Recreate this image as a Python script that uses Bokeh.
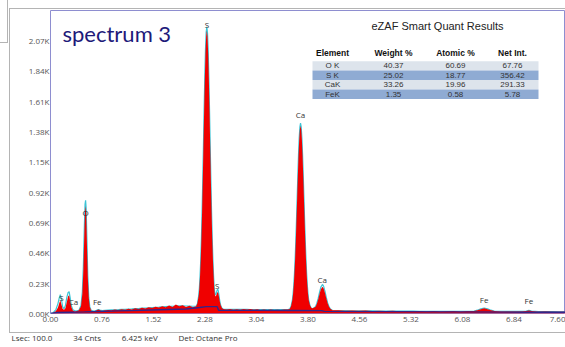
from bokeh.plotting import figure
from bokeh.models import FixedTicker, NumeralTickFormatter, Title
from bokeh.core.properties import value
from bokeh.embed import file_html
from bokeh.resources import INLINE

# ---- measured spectrum: energy (keV), counts, and fitted counts ----
energy = [
    # low-energy lines (S L, C/Ca L, O K, Fe L)
    0.00, 0.04, 0.08, 0.11, 0.13, 0.145, 0.16, 0.18, 0.20, 0.22, 0.24, 0.26, 0.275, 0.29,
    0.31, 0.33, 0.36, 0.39, 0.42, 0.45, 0.47, 0.485, 0.50, 0.51, 0.518, 0.527, 0.537, 0.55,
    0.565, 0.58, 0.60, 0.63, 0.66, 0.69, 0.71, 0.73, 0.76, 0.80,
    # continuum
    0.85, 0.90, 0.95, 1.00, 1.05, 1.10, 1.15, 1.20, 1.25, 1.30, 1.35, 1.40, 1.45, 1.50,
    1.55, 1.60, 1.65, 1.70, 1.75, 1.80, 1.85, 1.90, 1.95, 2.00, 2.05, 2.10, 2.15,
    # S K-alpha / K-beta
    2.167, 2.187, 2.197, 2.207, 2.217, 2.227, 2.237, 2.247, 2.257, 2.267, 2.277, 2.287,
    2.297, 2.307, 2.317, 2.327, 2.337, 2.347, 2.357, 2.367, 2.377, 2.387, 2.397, 2.407,
    2.417, 2.427, 2.437, 2.447, 2.457, 2.467, 2.477, 2.487, 2.497, 2.51, 2.53, 2.55,
    # continuum
    2.60, 2.65, 2.70, 2.75, 2.80, 2.85, 2.90, 2.95, 3.00, 3.05, 3.10, 3.15, 3.20, 3.25,
    3.30, 3.35, 3.40, 3.45, 3.50,
    # Ca K-alpha / K-beta
    3.53, 3.55, 3.57, 3.58, 3.59, 3.60, 3.61, 3.62, 3.63, 3.64, 3.65, 3.66, 3.67, 3.68,
    3.69, 3.70, 3.71, 3.72, 3.73, 3.74, 3.75, 3.76, 3.77, 3.78, 3.79, 3.80, 3.81, 3.83,
    3.85, 3.87, 3.89, 3.91, 3.93, 3.95, 3.97, 3.99, 4.013, 4.03, 4.05, 4.07, 4.09, 4.11,
    4.13, 4.16,
    # continuum with Fe K-alpha / K-beta
    4.25, 4.35, 4.45, 4.55, 4.65, 4.75, 4.85, 4.95, 5.05, 5.15, 5.25, 5.35, 5.45, 5.55,
    5.65, 5.75, 5.85, 5.95, 6.05, 6.15, 6.25, 6.30, 6.35, 6.40, 6.45, 6.50, 6.55, 6.65,
    6.75, 6.85, 6.95, 7.02, 7.06, 7.10, 7.20, 7.30, 7.40, 7.50, 7.60,
]
counts = [
    0, 4, 18, 45, 80, 100, 70, 35, 28, 40, 85, 130, 138, 95,
    45, 22, 15, 18, 25, 55, 150, 330, 620, 780, 815, 750, 540, 280,
    120, 50, 22, 15, 18, 26, 30, 24, 18, 22,
    27, 24, 30, 26, 33, 29, 36, 31, 40, 35, 44, 38, 47, 41,
    52, 45, 55, 48, 60, 50, 68, 55, 62, 50, 58, 48, 55,
    75, 137, 196, 284, 407, 568, 770, 1007, 1265, 1530, 1773, 1971,
    2099, 2145, 2099, 1971, 1773, 1530, 1265, 1007, 770, 568, 407, 284,
    190, 140, 128, 138, 155, 162, 152, 125, 95, 65, 42, 35,
    30, 34, 28, 33, 29, 35, 30, 34, 28, 32, 27, 31, 27, 30,
    26, 29, 27, 30, 31,
    35, 55, 105, 151, 216, 303, 415, 550, 706, 873, 1040, 1192, 1315, 1394,
    1422, 1394, 1315, 1192, 1040, 873, 706, 550, 415, 303, 216, 151, 105, 60,
    42, 40, 45, 50, 72, 106, 148, 184, 202, 192, 158, 116, 78, 52,
    36, 25,
    24, 21, 23, 20, 22, 19, 21, 18, 20, 17, 19, 17, 18, 16,
    18, 16, 17, 19, 16, 18, 19, 24, 33, 39, 33, 24, 19, 16,
    15, 16, 15, 19, 22, 18, 14, 15, 13, 14, 13,
]
fit = [
    0, 6, 30, 75, 120, 142, 110, 50, 35, 60, 120, 160, 165, 120,
    55, 28, 20, 20, 24, 60, 165, 360, 670, 830, 858, 790, 570, 290,
    120, 50, 24, 18, 20, 27, 30, 26, 22, 24,
    26, 27, 28, 29, 31, 32, 34, 35, 37, 38, 40, 41, 43, 45,
    47, 48, 50, 52, 54, 55, 57, 58, 58, 57, 56, 55, 56,
    72, 135, 195, 283, 406, 568, 772, 1012, 1275, 1545, 1795, 2000,
    2130, 2172, 2125, 1995, 1790, 1540, 1270, 1008, 770, 566, 404, 282,
    192, 148, 140, 155, 175, 185, 170, 135, 98, 64, 40, 34,
    31, 31, 31, 31, 31, 31, 31, 30, 30, 30, 30, 29, 29, 29,
    29, 29, 29, 29, 30,
    34, 54, 104, 150, 215, 302, 414, 550, 708, 878, 1048, 1204, 1330, 1412,
    1442, 1412, 1330, 1204, 1048, 878, 708, 550, 414, 302, 215, 150, 104, 58,
    40, 38, 44, 52, 76, 114, 160, 200, 220, 208, 170, 122, 80, 52,
    34, 24,
    22, 22, 21, 21, 20, 20, 19, 19, 19, 18, 18, 18, 17, 17,
    17, 17, 17, 17, 17, 17, 19, 25, 35, 42, 35, 25, 19, 17,
    16, 16, 16, 19, 24, 19, 15, 14, 14, 13, 13,
]

# ---- continuum background ----
bg_energy = [0.0, 0.1, 0.3, 0.5, 0.7, 1.0, 1.5, 2.0, 2.2, 2.3, 2.46, 2.48, 3.0, 3.6, 4.0,
             4.04, 5.0, 6.0, 7.0, 7.6]
bg_counts = [0, 8, 10, 12, 15, 20, 27, 34, 45, 52, 52, 24, 24, 23, 22, 16, 14, 12, 10, 9]

# ---- element line labels ----
line_names = ["S", "Ca", "O", "Fe", "S", "S", "Ca", "Ca", "Fe", "Fe"]
line_keV = [0.16, 0.34, 0.517, 0.69, 2.31, 2.46, 3.69, 4.01, 6.40, 7.06]
line_label_counts = [124, 94, 765, 94, 2190, 215, 1505, 260, 109, 97]

# ---- axes ----
x_ticks = [0.00, 0.76, 1.52, 2.28, 3.04, 3.80, 4.56, 5.32, 6.08, 6.84, 7.60]
y_ticks = [0, 230, 460, 690, 920, 1150, 1380, 1610, 1840, 2070]
y_tick_labels = ["0.00K", "0.23K", "0.46K", "0.69K", "0.92K", "1.15K", "1.38K", "1.61K",
                 "1.84K", "2.07K"]
X_END = 7.6
Y_END = 2296

# ---- quantification table ----
table_title = "eZAF Smart Quant Results"
table_header = ["Element", "Weight %", "Atomic %", "Net Int."]
table_elements = ["O K", "S K", "CaK", "FeK"]
weight_pct = [40.37, 25.02, 33.26, 1.35]
atomic_pct = [60.69, 18.77, 19.96, 0.58]
net_int = [67.76, 356.42, 291.33, 5.78]

footer_items = ["Lsec: 100.0", "34 Cnts", "6.425 keV", "Det: Octane Pro"]
footer_gaps = [10, 10, 10]

# ---- frame placement in pixels ----
W, H = 565, 347
FL, FT, FR, FB = 50, 10, 0, 32
FW = W - FL - FR
FH = H - FT - FB


def dx(px):
    return (px - FL) / FW * X_END


def dy(py):
    return (FT + FH - py) / FH * Y_END


p = figure(width=W, height=H, x_range=(0, X_END), y_range=(0, Y_END),
           output_backend="svg", toolbar_location=None,
           min_border_left=FL, min_border_right=FR, min_border_top=FT, min_border_bottom=FB)
p.background_fill_color = "white"
p.border_fill_alpha = 0
p.outline_line_color = "#8e8ed0"
p.outline_line_width = 1
p.grid.visible = False

# panel frame lines drawn behind the canvas
grey = "linear-gradient(#b4b4b4,#b4b4b4)"
p.styles = {"background": ", ".join([
    f"{grey} 9px 8px / 700px 1px no-repeat",
    f"{grey} 9px 332px / 700px 1px no-repeat",
    f"{grey} 9px 8px / 1px 325px no-repeat",
    f"{grey} 7px 0px / 1px 42px no-repeat",
    f"{grey} 0px 42px / 8px 1px no-repeat",
    "white",
])}

tick_font = "Open Sans"
p.xaxis.ticker = FixedTicker(ticks=x_ticks)
p.xaxis.formatter = NumeralTickFormatter(format="0.00")
p.yaxis.ticker = FixedTicker(ticks=y_ticks)
p.yaxis.major_label_overrides = dict(zip(y_ticks, y_tick_labels))
for ax in (p.xaxis, p.yaxis):
    ax.axis_line_color = None
    ax.major_tick_line_color = None
    ax.minor_tick_line_color = None
    ax.major_tick_out = 0
    ax.major_tick_in = 0
    ax.minor_tick_out = 0
    ax.major_label_text_font = tick_font
    ax.major_label_text_font_size = "8px"
    ax.major_label_text_color = "#555555"
p.xaxis.major_label_standoff = 3
p.yaxis.major_label_standoff = 1

# fitted curve beneath the filled spectrum, visible only where it rises above it
p.line(energy, fit, line_color="#3cc4d6", line_width=1.2)
p.varea(x=energy, y1=0, y2=counts, fill_color="#f00000")
p.line(bg_energy, bg_counts, line_color="#33248a", line_width=1.4)

p.text(x=line_keV, y=line_label_counts, text=line_names, text_align="center",
       text_baseline="middle", text_font=value("Open Sans"), text_font_size="8px",
       text_color="#333333")

# spectrum name
p.text(x=[dx(62)], y=[dy(33)], text=["spectrum 3"], text_align="left",
       text_baseline="alphabetic", text_font=value("Lato"), text_font_size="22px",
       text_color="#1e1a7a")

# quantification table
TL, TR = 312, 538
row_tops = [61, 70.5, 80, 89.5]
row_h = 9.5
row_colors = ["#dde4ec", "#8fabd3", "#dde4ec", "#8fabd3"]
col_x = [332, 393, 455, 512]
p.quad(left=[dx(TL)] * 4, right=[dx(TR)] * 4,
       top=[dy(t) for t in row_tops], bottom=[dy(t + row_h) for t in row_tops],
       fill_color=row_colors, line_color=None)
p.text(x=[dx(437)], y=[dy(25.5)], text=[table_title], text_align="center",
       text_baseline="middle", text_font=value("Liberation Sans"), text_font_size="11px",
       text_color="#222222")
p.text(x=[dx(c) for c in col_x], y=[dy(52.5)] * 4, text=table_header, text_align="center",
       text_baseline="middle", text_font=value("Liberation Sans"), text_font_size="8.5px",
       text_font_style="bold", text_color="#111111")
for i, t in enumerate(row_tops):
    cells = [table_elements[i], f"{weight_pct[i]:.2f}", f"{atomic_pct[i]:.2f}", f"{net_int[i]:.2f}"]
    p.text(x=[dx(c) for c in col_x], y=[dy(t + row_h / 2)] * 4, text=cells,
           text_align="center", text_baseline="middle", text_font=value("Liberation Sans"),
           text_font_size="8px", text_color="#333333")

# acquisition info line under the chart
footer_text = footer_items[0]
for gap, item in zip(footer_gaps, footer_items[1:]):
    footer_text += "\u00a0" * gap + item
p.add_layout(Title(text=footer_text, align="left", offset=11 - FL, standoff=10,
                   text_font="Open Sans", text_font_size="8px", text_font_style="normal",
                   text_color="#333333"), "below")

open("out.html", "w").write(file_html(p, INLINE))
